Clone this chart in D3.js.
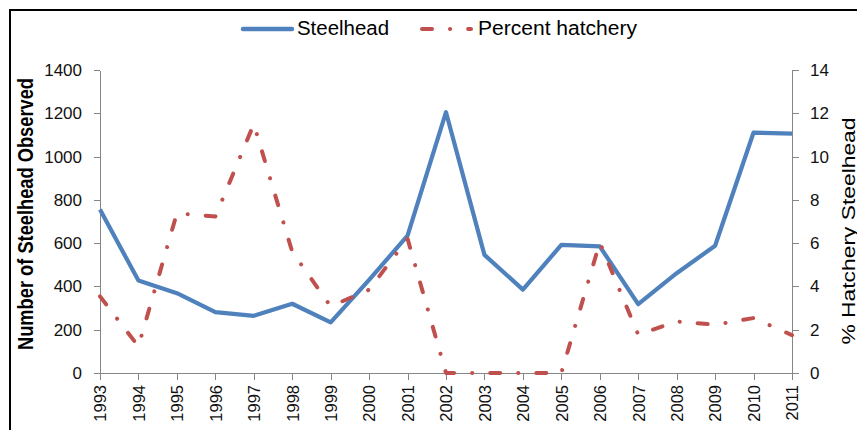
<!DOCTYPE html>
<html>
<head>
<meta charset="utf-8">
<script src="https://cdn.jsdelivr.net/npm/d3@7"></script>
<style>
  body { margin: 0; background: #fff; }
  svg { display: block; font-family: "Liberation Sans", Arial, sans-serif; }
  .axis path, .axis line { stroke: #868686; shape-rendering: crispEdges; }
  .axis text { fill: #111; font-size: 17px; }
</style>
</head>
<body>
<script>
var years = [1993, 1994, 1995, 1996, 1997, 1998, 1999, 2000, 2001, 2002,
             2003, 2004, 2005, 2006, 2007, 2008, 2009, 2010, 2011];
var steelhead = [755, 427, 369, 281, 264, 320, 234, 430, 635, 1205,
                 546, 385, 592, 585, 318, 461, 588, 1111, 1106];
var pctHatchery = [3.54, 1.23, 7.38, 7.23, 11.5, 5.6, 3.08, 3.85, 6.2, 0,
                   0, 0, 0, 6.03, 1.77, 2.38, 2.23, 2.54, 1.75];
var leftTicks = [0, 200, 400, 600, 800, 1000, 1200, 1400];
var rightTicks = [0, 2, 4, 6, 8, 10, 12, 14];

var width = 857, height = 430;
// plot box (window.top is reserved, so use plot* names)
var plotLeft = 100, plotRight = 792, plotTop = 70, plotBottom = 373;
var blue = '#4f81bd', red = '#c0504d';
var dashes = '10,18,0.1,18'; // long dash - dot, as Excel draws it

var svg = d3.select('body').append('svg').attr('width', width).attr('height', height);

// frame of the pasted chart (runs off the right and bottom edges)
svg.append('rect')
    .attr('x', 10).attr('y', 10)
    .attr('width', width + 20).attr('height', height + 20)
    .attr('fill', 'none').attr('stroke', '#000').attr('stroke-width', 2);

var x = d3.scaleLinear().domain([1993, 2011]).range([plotLeft, plotRight]);
var yL = d3.scaleLinear().domain([0, 1400]).range([plotBottom, plotTop]);
var yR = d3.scaleLinear().domain([0, 14]).range([plotBottom, plotTop]);

svg.append('g').attr('class', 'axis')
    .attr('transform', 'translate(' + plotLeft + ',0)')
    .call(d3.axisLeft(yL).tickValues(leftTicks).tickFormat(d3.format('d'))
        .tickSize(6).tickSizeOuter(0).tickPadding(12));

svg.append('g').attr('class', 'axis')
    .attr('transform', 'translate(' + plotRight + ',0)')
    .call(d3.axisRight(yR).tickValues(rightTicks).tickFormat(d3.format('d'))
        .tickSize(7).tickSizeOuter(0).tickPadding(11));

var xAxis = svg.append('g').attr('class', 'axis')
    .attr('transform', 'translate(0,' + plotBottom + ')')
    .call(d3.axisBottom(x).tickValues(years).tickFormat(d3.format('d')).tickSize(7).tickSizeOuter(0));

xAxis.selectAll('text')
    .attr('transform', 'rotate(-90)')
    .attr('x', -12).attr('y', 0).attr('dy', '0.35em')
    .style('text-anchor', 'end')
    .style('font-size', '16.5px');

// series
var lineL = d3.line().x(function (d, i) { return x(years[i]); }).y(function (d) { return yL(d); });
var lineR = d3.line().x(function (d, i) { return x(years[i]); }).y(function (d) { return yR(d); });

svg.append('path')
    .datum(steelhead)
    .attr('d', lineL)
    .attr('fill', 'none').attr('stroke', blue).attr('stroke-width', 4.2)
    .attr('stroke-linejoin', 'round');

svg.append('path')
    .datum(pctHatchery)
    .attr('d', lineR)
    .attr('fill', 'none').attr('stroke', red).attr('stroke-width', 4)
    .attr('stroke-linecap', 'round').attr('stroke-linejoin', 'round')
    .attr('stroke-dasharray', dashes);

// axis titles
svg.append('text')
    .attr('transform', 'translate(33,214) rotate(-90)')
    .attr('text-anchor', 'middle')
    .attr('textLength', 272).attr('lengthAdjust', 'spacingAndGlyphs')
    .style('font-size', '22px').style('font-weight', 'bold').attr('fill', '#000')
    .text('Number of Steelhead Observed');

svg.append('text')
    .attr('transform', 'translate(855,231) rotate(-90)')
    .attr('text-anchor', 'middle')
    .attr('textLength', 227).attr('lengthAdjust', 'spacingAndGlyphs')
    .style('font-size', '19px').attr('fill', '#000')
    .text('% Hatchery Steelhead');

// legend
var legend = svg.append('g');
legend.append('line')
    .attr('x1', 243).attr('x2', 292).attr('y1', 29).attr('y2', 29)
    .attr('stroke', blue).attr('stroke-width', 4.5).attr('stroke-linecap', 'round');
legend.append('text')
    .attr('x', 297).attr('y', 35)
    .attr('textLength', 92).attr('lengthAdjust', 'spacingAndGlyphs')
    .style('font-size', '20px').attr('fill', '#000')
    .text('Steelhead');
legend.append('line')
    .attr('x1', 422).attr('x2', 471).attr('y1', 29).attr('y2', 29)
    .attr('stroke', red).attr('stroke-width', 4).attr('stroke-linecap', 'round')
    .attr('stroke-dasharray', dashes);
legend.append('text')
    .attr('x', 478).attr('y', 35)
    .attr('textLength', 159).attr('lengthAdjust', 'spacingAndGlyphs')
    .style('font-size', '20px').attr('fill', '#000')
    .text('Percent hatchery');
</script>
</body>
</html>
